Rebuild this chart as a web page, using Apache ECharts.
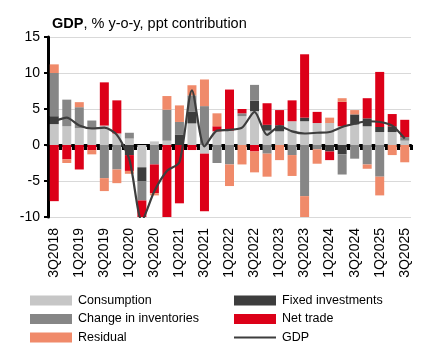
<!DOCTYPE html>
<html><head><meta charset="utf-8">
<script src="https://cdn.jsdelivr.net/npm/echarts@6/dist/echarts.min.js"></script>
<style>html,body{margin:0;padding:0;background:#fff}#c{width:423px;height:349px}</style>
</head><body><div id="c"></div>
<script>
const categories = ['3Q2018','4Q2018','1Q2019','2Q2019','3Q2019','4Q2019','1Q2020','2Q2020','3Q2020','4Q2020','1Q2021','2Q2021','3Q2021','4Q2021','1Q2022','2Q2022','3Q2022','4Q2022','1Q2023','2Q2023','3Q2023','4Q2023','1Q2024','2Q2024','3Q2024','4Q2024','1Q2025','2Q2025','3Q2025'];
const consumption = [2.9, 2.6, 2.35, 2.4, 2.7, 1.6, 0.9, -3.1, 0.5, 0.6, 0, 3.0, -1.2, 1.9, 2.0, 4.0, 4.7, 2.0, 1.9, 3.3, 3.3, 3.05, 3.05, 2.6, 2.85, 2.6, 1.8, 1.8, 0.6];
const fixedInvestments = [1.1, 0, 0, 0, 0, 0, -1.4, -1.9, 0, 0, 1.4, 1.6, 0, 0, 0, 0, 1.45, 0.8, 0.85, 0, 0.5, 0, -0.9, -1.3, 1.4, 1.1, 0.7, 0.8, 0];
const inventories = [6.0, 3.7, 2.9, 1.0, -4.6, -3.4, 0.8, -2.7, -2.7, 4.3, 1.8, 2.3, 5.4, -2.5, -2.7, 0.4, 2.2, -1.2, 0, -1.4, -7.1, -0.6, 0, -2.8, -1.9, -2.7, -4.4, 0, 0.5];
const netTrade = [-7.8, -2.0, -3.4, -0.7, 6.0, 4.6, -2.2, -3.0, -4.0, -10.2, -8.1, -0.7, -8.0, 0.7, 5.7, 0.6, -0.9, 3.0, 2.1, 2.9, 8.8, 1.55, -1.2, 3.4, 0, 2.8, 7.65, 1.7, 2.4];
const residual = [1.2, -0.5, 0.7, -0.6, -1.8, -1.9, -0.4, 0, -0.3, 1.9, 2.3, 1.4, 3.7, 1.8, -3.0, -2.7, -2.9, -3.2, -2.1, -2.9, -3.1, -2.0, 0.75, 0.5, 0.6, -0.6, -2.6, -1.4, -2.4];
const gdp = [3.3, 3.8, 2.7, 2.3, 2.4, 1.4, -2.0, -10.5, -6.4, -3.6, -2.4, 7.6, -0.2, 2.0, 2.1, 2.4, 4.6, 1.4, 2.6, 1.9, 1.6, 1.7, 1.8, 2.5, 2.95, 3.3, 3.2, 2.7, 0.9];

const FONT = 'Liberation Sans, Arial, sans-serif';
const colors = {
  'Consumption': '#c6c6c6',
  'Fixed investments': '#3d3d3d',
  'Change in inventories': '#868686',
  'Net trade': '#dc0018',
  'Residual': '#f08a6a',
  'GDP': '#3d3d3d'
};
function bar(name, data) {
  return { name, type: 'bar', stack: 'c', data, barWidth: 9, xAxisIndex: 0,
    itemStyle: { color: colors[name] }, emphasis: { disabled: true } };
}
const legendBase = { orient: 'vertical', itemWidth: 42, itemHeight: 10, itemGap: 5.5, padding: 0, icon: 'rect',
  textStyle: { fontSize: 12.5, color: '#000', fontFamily: FONT, padding: [0,0,0,1] } };
const chart = echarts.init(document.getElementById('c'), null, { renderer: 'canvas' });
chart.setOption({
  animation: false,
  textStyle: { fontFamily: FONT },
  title: {
    text: '{b|GDP}, % y-o-y, ppt contribution',
    left: 47, top: 11,
    textStyle: { fontSize: 14.5, fontWeight: 'normal', color: '#000', fontFamily: FONT,
      rich: { b: { fontSize: 14.5, fontWeight: 'bold', color: '#000', fontFamily: FONT } } }
  },
  grid: { left: 48, right: 12, top: 37, bottom: 132, containLabel: false },
  xAxis: [
    { type: 'category', data: categories, position: 'bottom',
      axisLine: { show: false, onZero: false }, axisTick: { show: false },
      axisLabel: { rotate: 90, interval: 1, fontSize: 14, color: '#000', fontFamily: FONT, margin: 11 } },
    { type: 'category', data: categories, position: 'top',
      axisLine: { show: true, onZero: true, lineStyle: { color: '#000', width: 3 } },
      axisTick: { show: true, inside: true, interval: 0, length: 5, lineStyle: { color: '#000', width: 3 } },
      axisLabel: { show: false } }
  ],
  yAxis: {
    type: 'value', min: -10, max: 15, interval: 5,
    axisLine: { show: true, lineStyle: { color: '#000', width: 3 } },
    axisTick: { show: true, length: 4, lineStyle: { color: '#000', width: 2 } },
    axisLabel: { fontSize: 14, color: '#000', fontFamily: FONT, margin: 8 },
    splitLine: { lineStyle: { color: '#d9d9d9', width: 1 } }
  },
  legend: [
    Object.assign({}, legendBase, { left: 30, top: 294,
      data: ['Consumption', 'Change in inventories', 'Residual'] }),
    Object.assign({}, legendBase, { left: 234, top: 294,
      data: ['Fixed investments', 'Net trade',
        { name: 'GDP', icon: 'path://M0,0 L42,0 L42,2.2 L0,2.2 Z' }] })
  ],
  series: [
    bar('Consumption', consumption),
    bar('Fixed investments', fixedInvestments),
    bar('Change in inventories', inventories),
    bar('Net trade', netTrade),
    bar('Residual', residual),
    { name: 'GDP', type: 'line', data: gdp, symbol: 'none', smooth: 0.25, z: 5,
      lineStyle: { color: colors['GDP'], width: 2.2 }, itemStyle: { color: colors['GDP'] } }
  ]
});
</script></body></html>
